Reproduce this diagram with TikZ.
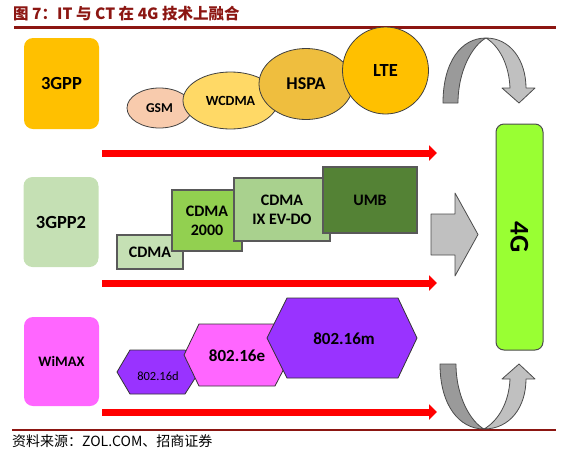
\documentclass[tikz,border=0pt]{standalone}
\usepackage{fontspec}
\setmainfont{Carlito}
\newfontfamily\cjk{Noto Sans CJK SC}
\usetikzlibrary{shapes.geometric,arrows.meta}
\definecolor{titlered}{RGB}{140,22,18}
\definecolor{orgA}{HTML}{FFC000}
\definecolor{orgB}{HTML}{C5E0B4}
\definecolor{orgC}{HTML}{FF66FF}
\definecolor{cgsm}{HTML}{F8CBAD}
\definecolor{cwcdma}{HTML}{FFD966}
\definecolor{chspa}{HTML}{EFBE3E}
\definecolor{clte}{HTML}{FFC000}
\definecolor{ccdma}{HTML}{C5E0B4}
\definecolor{ccdmaB}{HTML}{92D050}
\definecolor{ccdmaC}{HTML}{A9D18E}
\definecolor{cumb}{HTML}{548235}
\definecolor{cpurple}{HTML}{9933FF}
\definecolor{cpink}{HTML}{FF66FF}
\definecolor{cfour}{HTML}{99FF33}
\definecolor{gdark}{HTML}{9A9A9A}
\definecolor{glight}{HTML}{C0C0C0}
\begin{document}
\begin{tikzpicture}[x=1pt,y=-1pt,
  orgbox/.style={rounded corners=9pt, inner sep=0pt, minimum width=75pt, font=\bfseries\fontsize{18.5}{20}\selectfont},
  tech/.style={ellipse, draw=black!75, line width=0.8pt, inner sep=0pt, font=\bfseries},
  genbox/.style={draw=black!65, line width=1.2pt, inner sep=0pt, align=center, font=\bfseries\fontsize{16}{19}\selectfont},
  hexa/.style={draw=black!80, line width=0.8pt},
  hexlabel/.style={inner sep=0pt, font=\bfseries\fontsize{17}{19}\selectfont},
  redarrow/.style={red, line width=7pt, -{Triangle[length=8pt,width=15pt]}},
  blockarrow/.style={draw=black!70, line width=0.8pt, line join=round}
]
\useasboundingbox (0,0) rectangle (576,456);

% title and rules
\node[anchor=west, inner sep=0pt, text=titlered, font=\cjk\bfseries\fontsize{15.5}{17}\selectfont] (title) at (13,14) {图 7：IT 与 CT 在 4G 技术上融合};
\draw[titlered, line width=3pt] (14,27) -- (556,27);
\draw[titlered, line width=2.5pt] (12,430) -- (556,430);
\node[anchor=west, inner sep=0pt, font=\cjk\fontsize{14}{16}\selectfont] (source) at (12,441) {资料来源：ZOL.COM、招商证券};

% organisations
\node[orgbox, fill=orgA, minimum height=91pt] (gpp) at (61.5,83.5) {3GPP};
\node[orgbox, fill=orgB, minimum height=90pt] (gpp2) at (61,222) {3GPP2};
\node[orgbox, fill=orgC, minimum height=89pt, font=\bfseries\fontsize{14.5}{16}\selectfont] (wimax) at (61.5,361.5) {WiMAX};

% 3GPP ellipses
\node[tech, fill=cgsm, minimum width=65pt, minimum height=40pt, font=\bfseries\fontsize{13.5}{15}\selectfont] (gsm) at (159.5,108) {GSM};
\node[tech, fill=cwcdma, minimum width=95pt, minimum height=57pt, font=\bfseries\fontsize{14}{16}\selectfont] (wcdma) at (230.5,100.5) {WCDMA};
\node[tech, fill=chspa, minimum width=94pt, minimum height=71pt, font=\bfseries\fontsize{18}{20}\selectfont] (hspa) at (306,84) {HSPA};
\node[tech, fill=clte, minimum width=86pt, minimum height=87pt, font=\bfseries\fontsize{18.5}{20}\selectfont] (lte) at (385.5,70.5) {LTE};

% 3GPP2 rectangles
\node[genbox, fill=ccdma, minimum width=66pt, minimum height=34pt] (cdma) at (150,252) {CDMA};
\node[genbox, fill=ccdmaB, minimum width=70pt, minimum height=61pt] (cdma2000) at (207,220.5) {CDMA\\2000};
\node[genbox, fill=ccdmaC, minimum width=96pt, minimum height=63pt] (evdo) at (282,209.5) {CDMA\\IX EV-DO};
\node[genbox, fill=cumb, minimum width=94pt, minimum height=66pt] (umb) at (370,200) {UMB};

% WiMAX hexagons
\draw[hexa, fill=cpurple] (117,372) -- (130,350) -- (185,350) -- (199,372) -- (185,394) -- (130,394) -- cycle;
\node[inner sep=0pt, font=\fontsize{12.5}{14}\selectfont] (d16) at (158,376) {802.16d};
\draw[hexa, fill=cpink] (184,355) -- (199,324) -- (275,324) -- (291,355) -- (275,386) -- (199,386) -- cycle;
\node[hexlabel] (e16) at (237,356) {802.16e};
\draw[hexa, fill=cpurple] (267,338) -- (287,298) -- (398,298) -- (417,338) -- (398,378) -- (287,378) -- cycle;
\node[hexlabel] (m16) at (344,339) {802.16m};

% red arrows
\coordinate (r1s) at (102,153); \coordinate (r1e) at (437,153);
\coordinate (r2s) at (102,283); \coordinate (r2e) at (437,283);
\coordinate (r3s) at (102,412); \coordinate (r3e) at (437,412);
\draw[redarrow] (r1s) -- (r1e);
\draw[redarrow] (r2s) -- (r2e);
\draw[redarrow] (r3s) -- (r3e);

% big grey arrow
\draw[blockarrow, fill=glight] (431,214) -- (455,214) -- (455,193) -- (478,234.5) -- (455,276) -- (455,255) -- (431,255) -- cycle;

% 4G
\node[draw=black!70, line width=1pt, fill=cfour, rounded corners=8pt, minimum width=47pt, minimum height=226pt, inner sep=0pt, font=\bfseries\fontsize{27}{30}\selectfont] (four) at (519.5,237) {\rotatebox{-90}{4G}};

% top U-turn arrow
\draw[blockarrow, fill=gdark] (443,103) .. controls (443,62) and (461,38) .. (486,38) .. controls (473,45) and (458,70) .. (458,103) -- cycle;
\draw[blockarrow, fill=glight] (486,38) .. controls (510,38) and (526,60) .. (526,88) -- (535,88) -- (519,103) -- (502,88) -- (510,88) .. controls (509,64) and (499,46) .. (486,38) -- cycle;

% bottom U-turn arrow (mirrored)
\begin{scope}[shift={(0,467)}, yscale=-1]
\draw[blockarrow, fill=gdark] (440,103) .. controls (440,62) and (459,38) .. (484,38) .. controls (471,45) and (456,70) .. (456,103) -- cycle;
\draw[blockarrow, fill=glight] (484,38) .. controls (510,38) and (526,60) .. (526,88) -- (535,88) -- (519,103) -- (502,88) -- (510,88) .. controls (509,64) and (498,46) .. (484,38) -- cycle;
\end{scope}
\end{tikzpicture}
\end{document}
